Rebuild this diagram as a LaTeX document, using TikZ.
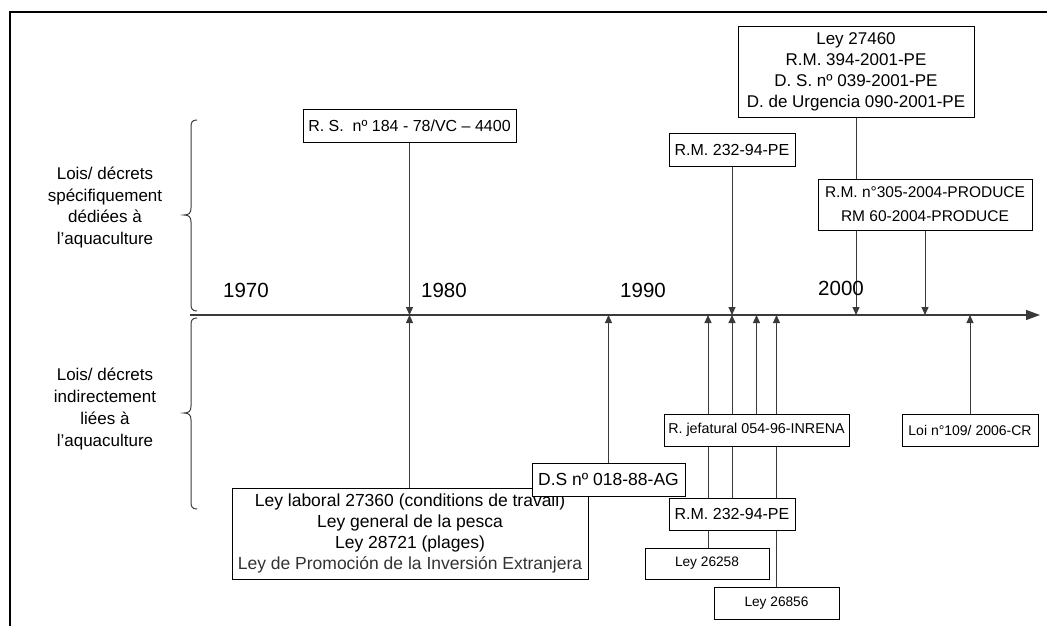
\documentclass[tikz,border=0pt]{standalone}
\usepackage{fontspec}
\setmainfont{Liberation Sans}
\usetikzlibrary{arrows.meta}
\pgfdeclarelayer{bg}
\pgfsetlayers{bg,main}
\definecolor{ln}{HTML}{3A3A3A}
\begin{document}
\begin{tikzpicture}[x=1pt,y=-1pt,
  box/.style={draw=black, fill=white, line width=0.8pt, inner sep=0pt, align=center},
  conn/.style={draw=ln, line width=1pt, -{Triangle[length=8pt,width=7pt]}},
  brace/.style={draw=ln, line width=1pt},
  yearlbl/.style={font=\fontsize{20.5}{24}\selectfont, inner sep=0pt},
  sidelbl/.style={align=center, inner sep=0pt, font=\fontsize{17}{21.7}\selectfont}]
\useasboundingbox (0,0) rectangle (1047,626);
% frame
\draw[line width=2pt, line join=miter] (10,626) -- (10,12) -- (1047,12);
% axis
\coordinate (ax0) at (190,315);
\coordinate (ax1) at (1040,315);
\draw[draw=ln, line width=1.3pt, -{Triangle[length=14pt,width=10pt]}] (ax0) -- (ax1);
% braces
\draw[brace] (197,120) .. controls (192.5,120) and (191,122) .. (191,127) -- (191,208)
  .. controls (191,213) and (189,215) .. (184,215) .. controls (189,215) and (191,217) .. (191,222)
  -- (191,304) .. controls (191,309) and (192.5,311) .. (197,311);
\draw[brace] (197,318) .. controls (192.5,318) and (191,320) .. (191,325) -- (191,406)
  .. controls (191,411) and (189,413) .. (184,413) .. controls (189,413) and (191,415) .. (191,420)
  -- (191,502) .. controls (191,507) and (192.5,509) .. (197,509);
% side labels
\node[sidelbl] (lblA) at (105,207.5) {Lois/ décrets\\spécifiquement\\dédiées à\\l’aquaculture};
\node[sidelbl] (lblB) at (105,409) {Lois/ décrets\\indirectement\\liées à\\l’aquaculture};
% years
\node[yearlbl] (y1970) at (246,290) {1970};
\node[yearlbl] (y1980) at (444,290) {1980};
\node[yearlbl] (y1990) at (643,290) {1990};
\node[yearlbl] (y2000) at (841,288) {2000};
% upper boxes
\node[box, minimum width=213pt, minimum height=33pt, font=\fontsize{16}{19}\selectfont] (rs) at (409.5,125.5) {R. S.\ \ nº 184 - 78/VC – 4400};
\node[box, minimum width=126pt, minimum height=33pt, font=\fontsize{16}{19}\selectfont] (rm1) at (732,149.5) {R.M. 232-94-PE};
\node[box, minimum width=236pt, minimum height=91pt, font=\fontsize{17}{21}\selectfont] (ley27460) at (856,71.5) {Ley 27460\\R.M. 394-2001-PE\\D. S. nº 039-2001-PE\\D. de Urgencia 090-2001-PE};
\node[box, minimum width=214pt, minimum height=51pt, font=\fontsize{15.5}{24}\selectfont] (rm305) at (925,204.5) {R.M. n°305-2004-PRODUCE\\RM 60-2004-PRODUCE};
% lower boxes
\node[box, minimum width=356pt, minimum height=91pt, font=\fontsize{17.5}{21}\selectfont] (laboral) at (410,533.5) {Ley laboral 27360 (conditions de travail)\\Ley general de la pesca\\Ley 28721 (plages)\\\textcolor{black!80}{Ley de Promoción de la Inversión Extranjera}};
\node[box, minimum width=153pt, minimum height=33pt, font=\fontsize{17.5}{21}\selectfont] (ds) at (608.5,479.5) {D.S nº 018-88-AG};
\node[box, minimum width=185pt, minimum height=32pt, font=\fontsize{14.3}{17}\selectfont] (rjef) at (756.5,430) {R. jefatural 054-96-INRENA};
\node[box, minimum width=136pt, minimum height=32pt, font=\fontsize{14}{17}\selectfont] (loi109) at (970,430) {Loi n°109/ 2006-CR};
\node[box, minimum width=126pt, minimum height=32pt, font=\fontsize{16}{19}\selectfont] (rm2) at (732,514) {R.M. 232-94-PE};
\node[box, minimum width=124pt, minimum height=31pt, font=\fontsize{13.7}{16}\selectfont] (ley26258) at (707,563.5) {Ley 26258};
\node[box, minimum width=125pt, minimum height=32pt, font=\fontsize{13.7}{16}\selectfont] (ley26856) at (776.5,603) {Ley 26856};
% connectors
\begin{pgfonlayer}{bg}
\draw[conn] (rs.south) -- (rs.south |- ax0);
\draw[conn] (rm1.south) -- (rm1.south |- ax0);
\draw[conn] (ley27460.south) -- (ley27460.south |- ax0);
\draw[conn] (rm305.south) -- (rm305.south |- ax0);
\draw[conn] (laboral.north -| rs.south) -- (rs.south |- ax0);
\draw[conn] (ds.north) -- (ds.north |- ax0);
\draw[conn] ([xshift=1pt]ley26258.north) -- ([xshift=1pt]ley26258.north |- ax0);
\draw[conn] (rm2.north) -- (rm2.north |- ax0);
\draw[conn] (rjef.north) -- (rjef.north |- ax0);
\draw[conn] (ley26856.north) -- (ley26856.north |- ax0);
\draw[conn] (loi109.north) -- (loi109.north |- ax0);
\end{pgfonlayer}
\end{tikzpicture}
\end{document}
